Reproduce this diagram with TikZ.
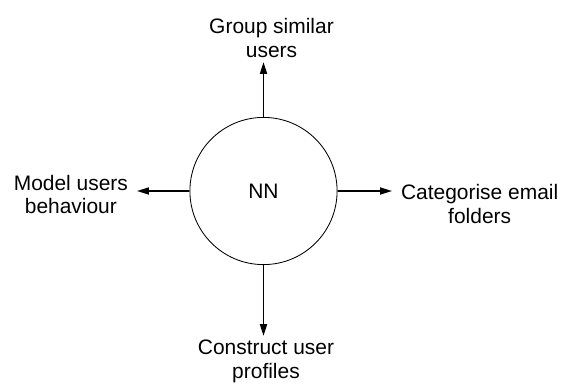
\documentclass[tikz,border=0pt]{standalone}
\usepackage{fontspec}
\setmainfont{Liberation Sans}
\usetikzlibrary{arrows.meta}

\begin{document}
\begin{tikzpicture}[line join=round,>={Triangle[length=8.5pt,width=5pt]},
    font=\fontsize{14.9pt}{17pt}\selectfont,
    txt/.style={align=center,inner xsep=0.22cm,inner ysep=0.1cm},
    vert/.style={->,line width=1.3pt},
    horz/.style={->,line width=1.1pt}]
      \useasboundingbox (-6.5875,-4.8) rectangle (7.5125,4.775);
      \node[circle,draw,line width=0.6pt,minimum size=3.68cm,inner sep=0] (nn) at (0,0) {NN};
      \node[txt,anchor=south] (grp) at (0.2,3.225) {Group similar\\users};
      \node[txt,anchor=north] (prof) at (0.0625,-3.625) {Construct user\\profiles};
      \node[txt,anchor=east] (mdl) at (-3.1625,-0.0875) {Model users\\behaviour};
      \node[txt,anchor=west] (cat) at (3.2125,-0.325) {Categorise email\\folders};
      \draw[vert] (nn.north) -- (nn.north |- grp.south);
      \draw[vert] (nn.south) -- (nn.south |- prof.north);
      \draw[horz] (nn.west) -- (nn.west -| mdl.east);
      \draw[horz] (nn.east) -- (nn.east -| cat.west);
    \end{tikzpicture}
\end{document}
